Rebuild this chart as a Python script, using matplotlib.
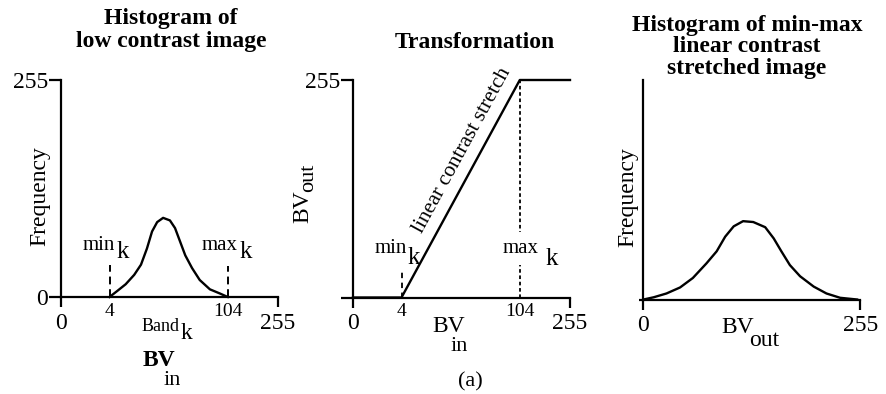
import numpy as np
import matplotlib
matplotlib.use('Agg')
import matplotlib.pyplot as plt
from matplotlib.transforms import Affine2D

plt.rcParams['font.family'] = 'Liberation Serif'

# schematic brightness axis: where each labelled BV sits along the 0-255 axis
bv_labels = ['0', '4', '104', '255']
bv_pos = [0, 57, 196, 255]

# histogram of the low contrast image
low_x = [57, 66, 76, 86, 94, 101, 107, 113, 120, 128, 134, 140, 146, 154, 163, 175, 187, 196]
low_y = [0, 7, 15, 26, 38, 57, 77, 88, 93, 90, 81, 65, 49, 34, 20, 9, 4, 0]

# histogram after min-max stretch
str_x = [0, 12, 27, 43, 58, 74, 86, 96, 106, 117, 129, 143, 153, 162, 172, 184, 200, 215, 231, 251]
str_y = [0, 2.6, 7, 14, 25, 42, 56, 73, 85, 91, 90, 84, 71, 56, 40, 27, 15, 7, 2, 0]

# transformation: flat, linear ramp from min_k to max_k, flat
map_y = [0, 0, 255, 255]

W, H = 887, 394
fig = plt.figure(figsize=(W / 100, H / 100), dpi=100)
px = Affine2D().scale(1 / W, -1 / H).translate(0, 1) + fig.transFigure


def put(s, x, y, size=16, **kw):
    return fig.text(x, y, s, transform=px, fontsize=size, **kw)


def make_axes(left, bottom, width, height):
    ax = fig.add_axes([left / W, 1 - bottom / H, width / W, height / H])
    ax.set_xlim(0, 255)
    ax.set_ylim(0, 255)
    ax.spines['top'].set_visible(False)
    ax.spines['right'].set_visible(False)
    ax.spines['left'].set_linewidth(1.6)
    ax.spines['bottom'].set_linewidth(1.6)
    ax.tick_params(axis='both', which='major', width=1.6, direction='out')
    ax.tick_params(axis='x', which='major', length=7.5, pad=4, labelsize=17)
    ax.tick_params(axis='y', which='major', length=8.5, pad=1, labelsize=17)
    ax.set_xticks([bv_pos[0], bv_pos[3]])
    ax.set_xticklabels([bv_labels[0], bv_labels[3]])
    return ax


lw = 1.7

# ---- panel 1: histogram of low contrast image
ax1 = make_axes(61, 297, 217, 217)
ax1.set_yticks([0, 255])
ax1.set_yticklabels(['0', '255'])
ax1.set_xticks([bv_pos[1], bv_pos[2]], minor=True)
ax1.set_xticklabels([bv_labels[1], bv_labels[2]], minor=True)
ax1.tick_params(axis='x', which='minor', length=0, pad=4, labelsize=14)
ax1.plot(low_x, low_y, color='black', lw=lw, solid_joinstyle='round', clip_on=False)
ax1.plot([bv_pos[1]] * 2, [0, 38], color='black', lw=1.4, ls=(0, (4, 2.5)))
ax1.plot([bv_pos[2]] * 2, [0, 36], color='black', lw=1.4, ls=(0, (4, 2.5)))

put('Histogram of\nlow contrast image', 171, 30, 17, weight='bold',
    ha='center', va='center', linespacing=1.1)
put('Frequency', 40, 196, 17, rotation=90, ha='center', va='center')
put('min', 83, 250, 15)
put('k', 117, 258, 18)
put('max', 202, 250, 15)
put('k', 240, 258, 18)
put('Band', 142, 331, 13)
put('k', 181, 339, 17)
put('BV', 143, 366, 17, weight='bold')
put('in', 164, 385, 16)

# ---- panel 2: transformation
ax2 = make_axes(353, 297.5, 217, 217.5)
ax2.set_yticks([0, 255])
ax2.set_yticklabels(['', '255'])
ax2.set_xticks([bv_pos[1], bv_pos[2]], minor=True)
ax2.set_xticklabels([bv_labels[1], bv_labels[2]], minor=True)
ax2.tick_params(axis='x', which='minor', length=0, pad=4, labelsize=14)
ax2.plot(bv_pos, map_y, color='black', lw=lw, clip_on=False, zorder=3)
ax2.plot([bv_pos[1]] * 2, [0, 34], color='black', lw=1.3, ls=(0, (3, 2.5)))
ax2.plot([bv_pos[2]] * 2, [0, 255], color='black', lw=1.3, ls=(0, (2, 1.5)))

p0 = ax2.transData.transform((bv_pos[1], map_y[1]))
p1 = ax2.transData.transform((bv_pos[2], map_y[2]))
angle = np.degrees(np.arctan2(p1[1] - p0[1], p1[0] - p0[0]))
put('linear contrast stretch', 462, 150, 15.5, rotation=angle,
    rotation_mode='anchor', ha='center', va='center')

put('Transformation', 475, 43, 17, weight='bold', ha='center', va='center')
put('BV', 313, 223, 17, rotation=90, ha='right', va='bottom')
put('out', 318, 192, 16, rotation=90, ha='right', va='bottom')
put('min', 375, 253, 15)
put('k', 408, 264, 18)
put('max', 503, 253, 15, zorder=5,
    bbox=dict(facecolor='white', edgecolor='none', pad=5))
put('k', 546, 265, 18)
put('BV', 432, 332, 17)
put('in', 451, 351, 16)
put('(a)', 470, 386, 16, ha='center')

# ---- panel 3: stretched histogram
ax3 = make_axes(643.5, 299.5, 217, 219.5)
ax3.set_yticks([0])
ax3.set_yticklabels([''])
ax3.tick_params(axis='y', which='major', length=3)
ax3.plot(str_x, str_y, color='black', lw=lw, solid_joinstyle='round', clip_on=False)

put('Histogram of min-max\nlinear contrast\nstretched image', 747, 47, 17,
    weight='bold', ha='center', va='center', linespacing=1.05)
put('Frequency', 628, 197, 17, rotation=90, ha='center', va='center')
put('BV', 721, 333, 17)
put('out', 749, 346, 17)

fig.savefig('out.png', dpi=100)
